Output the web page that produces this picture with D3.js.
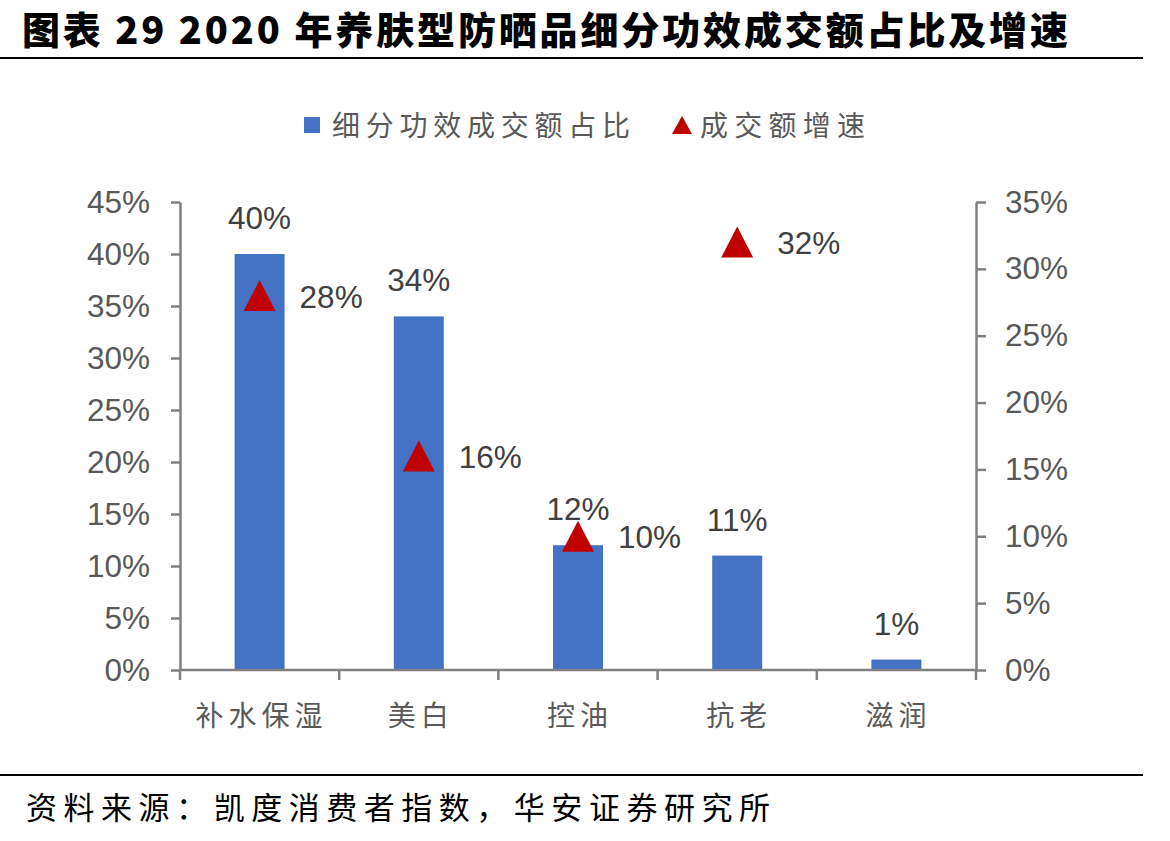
<!DOCTYPE html>
<html>
<head>
<meta charset="utf-8">
<script src="https://cdn.jsdelivr.net/npm/d3@7"></script>
<style>
  body { margin: 0; background: #fff; }
  text { font-family: "Liberation Sans", Arial, "Noto Sans CJK SC", sans-serif; }
  .cjk { font-family: "Noto Sans CJK SC", sans-serif; }
</style>
</head>
<body>
<div class="chart"></div>
<script>
// data
const categories = ["补水保湿", "美白", "控油", "抗老", "滋润"];
const shareValues = [0.40, 0.34, 0.12, 0.11, 0.01];      // 细分功效成交额占比
const growthValues = [0.28, 0.16, 0.10, 0.32, null];     // 成交额增速
const leftTicks = [0, 0.05, 0.10, 0.15, 0.20, 0.25, 0.30, 0.35, 0.40, 0.45];
const rightTicks = [0, 0.05, 0.10, 0.15, 0.20, 0.25, 0.30, 0.35];
const legendLabels = ["细分功效成交额占比", "成交额增速"];

const WIDTH = 1170, HEIGHT = 841;
const PLOT = { left: 180, right: 976, top: 202, bottom: 670 };
const BAR_COLOR = "#4472C4", TRI_COLOR = "#C00000", AXIS_COLOR = "#808080";
const NUM_SIZE = 31.5;

const svg = d3.select(".chart").append("svg")
    .attr("width", WIDTH)
    .attr("height", HEIGHT);

// title + rules
svg.append("text")
    .attr("class", "cjk")
    .attr("x", 22).attr("y", 44)
    .attr("font-size", 38).attr("font-weight", 900)
    .attr("textLength", 1046).attr("lengthAdjust", "spacing")
    .attr("fill", "#000")
    .text("图表 29 2020 年养肤型防晒品细分功效成交额占比及增速");
svg.append("line").attr("x1", 0).attr("x2", 1143).attr("y1", 58).attr("y2", 58)
    .attr("stroke", "#000").attr("stroke-width", 2);
svg.append("line").attr("x1", 0).attr("x2", 1143).attr("y1", 775).attr("y2", 775)
    .attr("stroke", "#000").attr("stroke-width", 2);
svg.append("text")
    .attr("class", "cjk")
    .attr("x", 26).attr("y", 819)
    .attr("font-size", 31)
    .attr("textLength", 744).attr("lengthAdjust", "spacing")
    .attr("fill", "#000")
    .text("资料来源：凯度消费者指数，华安证券研究所");

// scales
const x = d3.scaleBand()
    .domain(categories)
    .range([PLOT.left, PLOT.right])
    .paddingInner(0.686)
    .paddingOuter(0.343);
const xCenter = d => x(d) + x.bandwidth() / 2;
const bandStep = (PLOT.right - PLOT.left) / categories.length;

const yLeft = d3.scaleLinear().domain([0, 0.45]).range([PLOT.bottom, PLOT.top]);
const yRight = d3.scaleLinear().domain([0, 0.35]).range([PLOT.bottom, PLOT.top]);
const pct = d3.format(".0%");

// bars
svg.append("g").selectAll("rect")
    .data(shareValues)
    .join("rect")
        .attr("x", (d, i) => x(categories[i]))
        .attr("y", d => yLeft(d))
        .attr("width", x.bandwidth())
        .attr("height", d => yLeft(0) - yLeft(d))
        .attr("fill", BAR_COLOR);

// axes
const leftAxis = d3.axisLeft(yLeft).tickValues(leftTicks).tickFormat(pct).tickSize(9).tickPadding(21);
const rightAxis = d3.axisRight(yRight).tickValues(rightTicks).tickFormat(pct).tickSize(10).tickPadding(19);

function styleAxis(g) {
    g.select(".domain").attr("stroke", AXIS_COLOR).attr("stroke-width", 2.5);
    g.selectAll(".tick line").attr("stroke", AXIS_COLOR).attr("stroke-width", 2.5);
    g.selectAll(".tick text").attr("fill", "#595959").attr("font-size", NUM_SIZE)
        .attr("font-family", "'Liberation Sans', Arial, sans-serif");
}

svg.append("g")
    .attr("transform", `translate(${PLOT.left},0)`)
    .call(leftAxis.tickSizeOuter(0))
    .call(styleAxis);
svg.append("g")
    .attr("transform", `translate(${PLOT.right},0)`)
    .call(rightAxis.tickSizeOuter(0))
    .call(styleAxis);

// category axis: ticks at band boundaries, labels at centers
const xAxisG = svg.append("g");
xAxisG.append("line")
    .attr("x1", PLOT.left).attr("x2", PLOT.right)
    .attr("y1", PLOT.bottom).attr("y2", PLOT.bottom)
    .attr("stroke", AXIS_COLOR).attr("stroke-width", 2.5);
xAxisG.selectAll(".xtick")
    .data(d3.range(categories.length + 1))
    .join("line")
        .attr("class", "xtick")
        .attr("x1", i => PLOT.left + i * bandStep)
        .attr("x2", i => PLOT.left + i * bandStep)
        .attr("y1", PLOT.bottom).attr("y2", PLOT.bottom + 10)
        .attr("stroke", AXIS_COLOR).attr("stroke-width", 2.5);
xAxisG.selectAll(".xlabel")
    .data(categories)
    .join("text")
        .attr("class", "cjk xlabel")
        .attr("x", d => xCenter(d) + 2)
        .attr("y", 726)
        .attr("text-anchor", "middle")
        .attr("font-size", 28)
        .attr("letter-spacing", 5)
        .attr("fill", "#595959")
        .text(d => d);

// bar labels
svg.append("g").selectAll("text")
    .data(shareValues)
    .join("text")
        .attr("x", (d, i) => xCenter(categories[i]))
        .attr("y", d => yLeft(d) - 25)
        .attr("text-anchor", "middle")
        .attr("font-size", NUM_SIZE)
        .attr("fill", "#404040")
        .text(d => pct(d));

// growth markers
const triW = 32, triH = 31;
const growth = growthValues.map((v, i) => ({ cat: categories[i], v })).filter(d => d.v != null);
svg.append("g").selectAll("path")
    .data(growth)
    .join("path")
        .attr("d", d => {
            const cx = xCenter(d.cat), cy = yRight(d.v);
            return `M${cx},${cy - triH / 2}L${cx + triW / 2},${cy + triH / 2}L${cx - triW / 2},${cy + triH / 2}Z`;
        })
        .attr("fill", TRI_COLOR);
svg.append("g").selectAll("text")
    .data(growth)
    .join("text")
        .attr("x", d => xCenter(d.cat) + 40)
        .attr("y", d => yRight(d.v) + 12)
        .attr("font-size", NUM_SIZE)
        .attr("fill", "#404040")
        .text(d => pct(d.v));

// legend
const legend = svg.append("g");
legend.append("rect")
    .attr("x", 304).attr("y", 117).attr("width", 16).attr("height", 16)
    .attr("fill", BAR_COLOR);
legend.append("text")
    .attr("class", "cjk")
    .attr("x", 332).attr("y", 136)
    .attr("font-size", 28)
    .attr("textLength", 298).attr("lengthAdjust", "spacing")
    .attr("fill", "#595959")
    .text(legendLabels[0]);
legend.append("path")
    .attr("d", "M682,116L692,134L672,134Z")
    .attr("fill", TRI_COLOR);
legend.append("text")
    .attr("class", "cjk")
    .attr("x", 700).attr("y", 136)
    .attr("font-size", 28)
    .attr("textLength", 165).attr("lengthAdjust", "spacing")
    .attr("fill", "#595959")
    .text(legendLabels[1]);
</script>
</body>
</html>
